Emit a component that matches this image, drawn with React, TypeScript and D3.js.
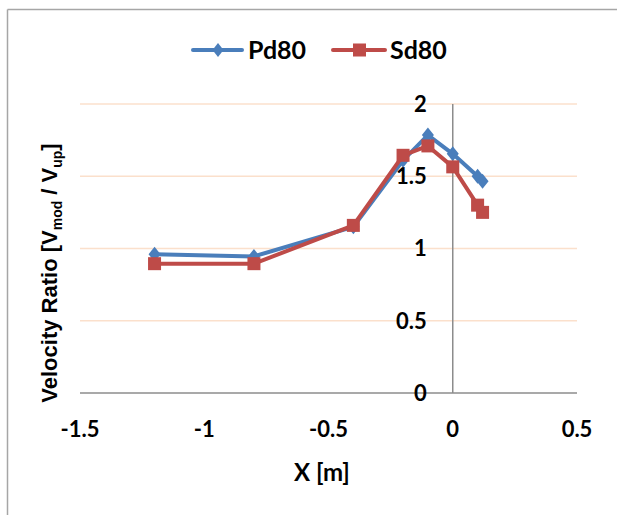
import React from "react";
import * as d3 from "d3";

const xValues = [-1.2, -0.8, -0.4, -0.2, -0.1, 0, 0.1, 0.12];
const pd80 = [0.96, 0.945, 1.15, 1.61, 1.785, 1.655, 1.5, 1.465];
const sd80 = [0.895, 0.895, 1.16, 1.645, 1.71, 1.565, 1.3, 1.25];
const xTicks = [-1.5, -1, -0.5, 0, 0.5];
const yTicks = [0, 0.5, 1, 1.5, 2];
const seriesNames = ["Pd80", "Sd80"];

const W = 617;
const H = 515;
const FONT = "Lato, 'Open Sans', sans-serif";
const ARIAL = "'Liberation Sans', Arial, sans-serif";
const BLUE = "#4a7ebb";
const RED = "#be4b48";

const fmt = (t: number) => String(t);

export default function App() {
  const x = d3.scaleLinear().domain([-1.5, 0.5]).range([80, 577]);
  const y = d3.scaleLinear().domain([0, 2]).range([393, 104]);
  const line = d3
    .line<number>()
    .x((_, i) => x(xValues[i]))
    .y((d) => y(d));

  const diamond = (cx: number, cy: number, rx: number, ry: number) =>
    `M${cx},${cy - ry}L${cx + rx},${cy}L${cx},${cy + ry}L${cx - rx},${cy}Z`;

  return (
    <div style={{ position: "fixed", left: 0, top: 0, width: W, height: H, overflow: "hidden", background: "#fff" }}>
      <style>{`html,body{margin:0;overflow:hidden;background:#fff}`}</style>
      <svg width={W} height={H} style={{ display: "block" }}>
        <line x1={7.5} x2={W + 5} y1={9.5} y2={9.5} stroke="#a6a6a6" strokeWidth={1.5} />
        <line x1={7.5} x2={7.5} y1={9.5} y2={H + 5} stroke="#a6a6a6" strokeWidth={1.5} />
        {/* gridlines */}
        {yTicks.filter((t) => t !== 0).map((t) => (
          <line key={t} x1={x(-1.5)} x2={x(0.5)} y1={y(t)} y2={y(t)} stroke="#fbe0cc" strokeWidth={1.5} />
        ))}
        {/* axes */}
        <line x1={x(-1.5)} x2={x(0.5)} y1={y(0)} y2={y(0)} stroke="#8c8c8c" strokeWidth={1.5} />
        <line x1={x(0)} x2={x(0)} y1={y(0)} y2={y(2)} stroke="#8c8c8c" strokeWidth={1.5} />
        {/* y tick labels */}
        {yTicks.map((t) => (
          <text key={t} x={x(0) - 26} y={y(t)} dy="0.36em" textAnchor="end" fontFamily={FONT} fontWeight="bold" fontSize={22} fill="#000">
            {fmt(t)}
          </text>
        ))}
        {/* x tick labels */}
        {xTicks.map((t) => (
          <text key={t} x={x(t)} y={y(0) + 44} textAnchor="middle" fontFamily={FONT} fontWeight="bold" fontSize={22} fill="#000">
            {fmt(t)}
          </text>
        ))}
        {/* series */}
        <path d={line(pd80) || ""} fill="none" stroke={BLUE} strokeWidth={4} strokeLinejoin="round" />
        {pd80.map((v, i) => (
          <path key={i} d={diamond(x(xValues[i]), y(v), 6, 7.5)} fill={BLUE} />
        ))}
        <path d={line(sd80) || ""} fill="none" stroke={RED} strokeWidth={4} strokeLinejoin="round" />
        {sd80.map((v, i) => (
          <rect key={i} x={x(xValues[i]) - 6.5} y={y(v) - 6.5} width={13} height={13} fill={RED} />
        ))}
        {/* axis titles */}
        <text x={322} y={481} textAnchor="middle" fontFamily={FONT} fontWeight="bold" fontSize={24} fill="#000">
          X [m]
        </text>
        <text transform={`translate(57,273) rotate(-90)`} textAnchor="middle" fontFamily={ARIAL} fontWeight="bold" fontSize={22} fill="#000">
          Velocity Ratio [V<tspan fontSize={14} dy={5}>mod</tspan><tspan dy={-5}> / V</tspan><tspan fontSize={14} dy={5}>up</tspan><tspan dy={-5}>]</tspan>
        </text>
        {/* legend */}
        <g>
          <line x1={193} x2={242} y1={50} y2={50} stroke={BLUE} strokeWidth={4} strokeLinecap="round" />
          <path d={diamond(218, 50, 5.5, 7)} fill={BLUE} />
          <text x={248} y={50} dy="0.36em" fontFamily={FONT} fontWeight="bold" fontSize={25} fill="#000">
            {seriesNames[0]}
          </text>
          <line x1={333} x2={385} y1={50} y2={50} stroke={RED} strokeWidth={4} strokeLinecap="round" />
          <rect x={353} y={43.5} width={13} height={13} fill={RED} />
          <text x={390} y={50} dy="0.36em" fontFamily={FONT} fontWeight="bold" fontSize={25} fill="#000">
            {seriesNames[1]}
          </text>
        </g>
      </svg>
    </div>
  );
}
